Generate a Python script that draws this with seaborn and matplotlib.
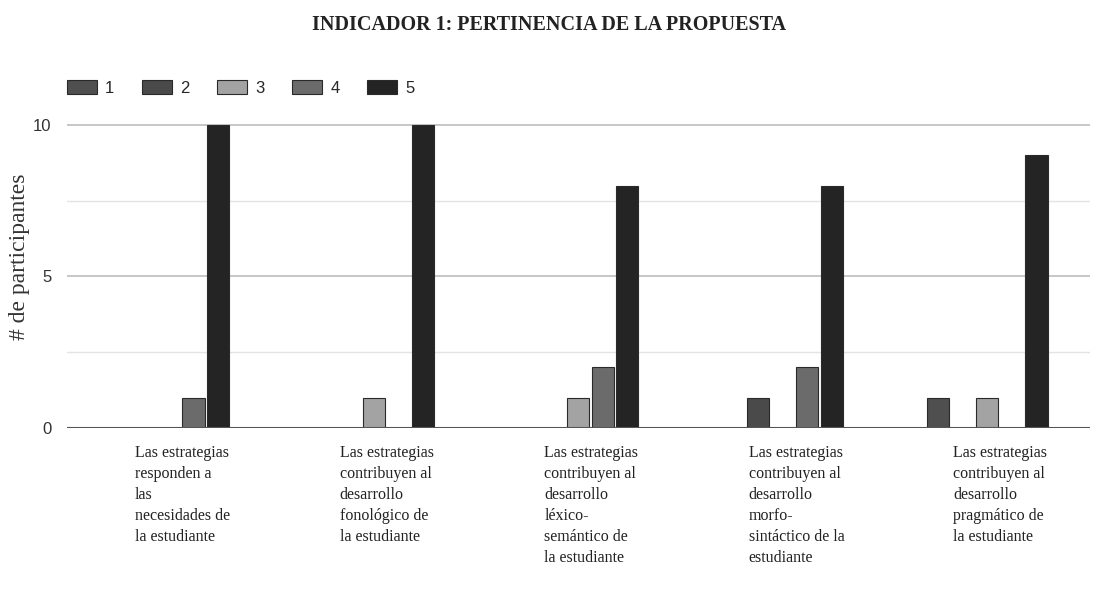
# plot.py

import seaborn as sns
import matplotlib.pyplot as plt
import matplotlib.transforms as mtransforms
import pandas as pd
import numpy as np

# --- 1. Data ---
categorias = [
    "Las estrategias\nresponden a\nlas\nnecesidades de\nla estudiante",
    "Las estrategias\ncontribuyen al\ndesarrollo\nfonológico de\nla estudiante",
    "Las estrategias\ncontribuyen al\ndesarrollo\nléxico-\nsemántico de\nla estudiante",
    "Las estrategias\ncontribuyen al\ndesarrollo\nmorfo-\nsintáctico de la\nestudiante",
    "Las estrategias\ncontribuyen al\ndesarrollo\npragmático de\nla estudiante",
]
series = ["1", "2", "3", "4", "5"]
valores_1 = [0, 0, 0, 0, 1]
valores_2 = [0, 0, 0, 1, 0]
valores_3 = [0, 1, 1, 0, 1]
valores_4 = [1, 0, 2, 2, 0]
valores_5 = [10, 10, 8, 8, 9]
colores = ["#4f4f4f", "#4a4a4a", "#a3a3a3", "#6b6b6b", "#242424"]

rows = []
for s, vals in zip(series, [valores_1, valores_2, valores_3, valores_4, valores_5]):
    for c, v in zip(categorias, vals):
        rows.append({"categoria": c, "serie": s, "valor": v})
df = pd.DataFrame(rows)

# --- 2. Styling ---
sns.set_style("white")
plt.rcParams["font.family"] = ["Liberation Serif", "DejaVu Serif"]

fig = plt.figure(figsize=(10.93, 6.05), dpi=100)
ax = fig.add_axes([0.061, 0.2926, 0.936, 0.601])

sns.barplot(
    data=df, x="categoria", y="valor", hue="serie",
    order=categorias, hue_order=series, palette=colores,
    width=0.6, gap=0.1, edgecolor="#2a2a2a", linewidth=0.8,
    ax=ax, zorder=3,
)

ax.set_xlim(-0.5, 4.5)
ax.set_ylim(0, 12)
ax.set_yticks([0, 5, 10])
ax.set_yticks([2.5, 7.5], minor=True)
ax.set_yticklabels(["0", "5", "10"], family=["Liberation Sans Narrow", "Liberation Sans"],
                   fontsize=12, color="#333333")
ax.grid(axis="y", which="major", color="#bdbdbd", linewidth=1.2, zorder=0)
ax.grid(axis="y", which="minor", color="#e3e3e3", linewidth=1.0, zorder=0)
ax.axhline(0, color="#555555", linewidth=1.5, zorder=4)
ax.tick_params(axis="y", which="both", length=0, pad=11)
ax.tick_params(axis="x", length=0, pad=12)
for s in ax.spines.values():
    s.set_visible(False)

# x labels left-aligned, shifted left of the group centre
offset = mtransforms.ScaledTranslation(-34 / 100, 0, fig.dpi_scale_trans)
for lab in ax.get_xticklabels():
    lab.set_horizontalalignment("left")
    lab.set_fontsize(11.5)
    lab.set_linespacing(1.42)
    lab.set_color("#222222")
    lab.set_transform(lab.get_transform() + offset)

ax.set_xlabel("")
ax.set_ylabel("# de participantes", fontsize=17, color="#333333")
ax.yaxis.set_label_coords(-0.036, 0.47)

ax.legend(
    loc="center left", bbox_to_anchor=(0.0, 0.935), ncol=5, frameon=False,
    prop={"family": ["Liberation Sans Narrow", "Liberation Sans"], "size": 12},
    handlelength=1.8, handleheight=0.9, handletextpad=0.5, columnspacing=1.65,
    borderaxespad=0, borderpad=0,
)

fig.text(0.502, 0.958, "INDICADOR 1: PERTINENCIA DE LA PROPUESTA",
         ha="center", va="center", fontsize=14.5, fontweight="bold", color="#222222")

# --- 3. Save ---
plt.savefig("out.png", dpi=100)
plt.close()
